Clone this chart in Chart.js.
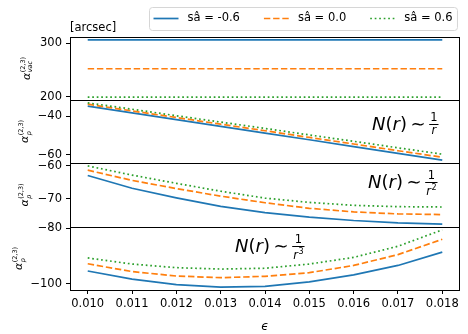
<!DOCTYPE html>
<html>
<head>
<meta charset="utf-8">
<script src="https://cdn.jsdelivr.net/npm/chart.js@4.4.1/dist/chart.umd.min.js"></script>
<style>
  html, body { margin: 0; padding: 0; background: #fff; }
  #wrap { position: relative; width: 468px; height: 334px; overflow: hidden; }
  #wrap canvas { position: absolute; left: 0; }
</style>
</head>
<body>
<div id="wrap">
  <canvas id="c1" width="468" height="112" style="top:0px"></canvas>
  <canvas id="c2" width="468" height="87" style="top:88px"></canvas>
  <canvas id="c3" width="468" height="88" style="top:151px"></canvas>
  <canvas id="c4" width="468" height="119" style="top:215px"></canvas>
</div>
<script>
// data
const eps = [0.010, 0.011, 0.012, 0.013, 0.014, 0.015, 0.016, 0.017, 0.018];
const seriesNames = ['sâ = -0.6', 'sâ = 0.0', 'sâ = 0.6'];

const vacNeg = [306, 306, 306, 306, 306, 306, 306, 306, 306];
const vacZero = [252, 252, 252, 252, 252, 252, 252, 252, 252];
const vacPos = [199, 199, 199, 199, 199, 199, 199, 199, 199];

const r1Neg = [-34.8, -38.3, -41.8, -45.3, -48.8, -52.3, -55.9, -59.4, -62.9];
const r1Zero = [-33.8, -37.3, -40.7, -44.2, -47.6, -51.1, -54.5, -58.0, -61.4];
const r1Pos = [-33.1, -36.4, -39.8, -43.1, -46.4, -49.8, -53.1, -56.5, -59.8];

const r2Neg = [-62.9, -66.8, -69.7, -72.3, -74.2, -75.6, -76.6, -77.3, -77.7];
const r2Zero = [-61.3, -64.4, -66.9, -69.2, -71.2, -72.9, -74.0, -74.6, -74.8];
const r2Pos = [-60.0, -62.8, -65.3, -67.7, -69.8, -71.1, -72.0, -72.4, -72.5];

const r3Neg = [-95.4, -98.3, -100.3, -101.2, -100.9, -99.3, -96.8, -93.4, -88.6];
const r3Zero = [-92.8, -95.6, -97.2, -97.8, -97.3, -96.0, -93.4, -89.5, -84.0];
const r3Pos = [-90.7, -92.9, -94.2, -94.7, -94.4, -92.9, -90.5, -86.5, -80.6];

const vacTicks = [200, 300];
const r1Ticks = [-60, -40];
const r2Ticks = [-70, -60];
const r3Ticks = [-100, -80];
const epsTicks = eps;

// look
const FONT = 'DejaVu Sans';
const colors = ['#1f77b4', '#ff7f0e', '#2ca02c'];
const dashes = [[], [6.4, 2.8], [1.7, 2.8]];

Chart.defaults.font.family = FONT;
Chart.defaults.font.size = 11.5;
Chart.defaults.color = '#000';

// matplotlib-like 5% margins
function range5(arrays) {
    const all = arrays.flat();
    const lo = Math.min(...all), hi = Math.max(...all);
    const m = (hi - lo) * 0.05;
    return [lo - m, hi + m];
}

const fmtY = v => (v < 0 ? '\u2212' + Math.abs(v) : String(v));

function drawAlpha(ctx, sub, bx, cy) {
    ctx.save();
    ctx.translate(bx, cy);
    ctx.rotate(-Math.PI / 2);
    ctx.fillStyle = '#000';
    ctx.textBaseline = 'alphabetic';
    ctx.textAlign = 'left';
    const big = 'italic 11px ' + FONT;
    const small = '6.5px ' + FONT;
    ctx.font = big;
    const wA = ctx.measureText('α').width;
    ctx.font = small;
    const wSup = ctx.measureText('(2,3)').width;
    ctx.font = 'italic ' + small;
    const wSub = ctx.measureText(sub).width;
    let x = -(wA + 0.5 + Math.max(wSup, wSub)) / 2;
    ctx.font = big;
    ctx.fillText('α', x, 0);
    x += wA + 0.5;
    ctx.font = small;
    ctx.fillText('(2,3)', x, -5);
    ctx.font = 'italic ' + small;
    ctx.fillText(sub, x, 2.5);
    ctx.restore();
}

function drawNote(ctx, n, oy) {
    const F = 18, f = 11.5, fs = 8;
    let x = n.x;
    const y = n.y - oy;
    ctx.save();
    ctx.fillStyle = '#000';
    ctx.textBaseline = 'alphabetic';
    ctx.textAlign = 'left';
    [['N', true], ['(', false], ['r', true], [')', false]].forEach(([t, it]) => {
        ctx.font = (it ? 'italic ' : '') + F + 'px ' + FONT;
        ctx.fillText(t, x, y);
        x += ctx.measureText(t).width;
    });
    x += 0.2 * F;
    ctx.font = F + 'px ' + FONT;
    ctx.fillText('∼', x, y);
    x += ctx.measureText('∼').width + 0.2 * F;

    ctx.font = 'italic ' + f + 'px ' + FONT;
    const wr = ctx.measureText('r').width;
    ctx.font = fs + 'px ' + FONT;
    const wp = n.pow ? ctx.measureText(n.pow).width + 0.5 : 0;
    ctx.font = f + 'px ' + FONT;
    const w1 = ctx.measureText('1').width;
    const wDen = wr + wp;
    const w = Math.max(w1, wDen) + 2;
    const bar = y - 5;
    ctx.fillRect(x, bar - 0.5, w, 1);
    ctx.fillText('1', x + (w - w1) / 2, bar - 3.5);
    const db = bar + (n.pow ? 12.5 : 9);
    const dx = x + (w - wDen) / 2;
    ctx.font = 'italic ' + f + 'px ' + FONT;
    ctx.fillText('r', dx, db);
    if (n.pow) {
        ctx.font = fs + 'px ' + FONT;
        ctx.fillText(n.pow, dx + wr + 0.5, db - 5);
    }
    ctx.restore();
}

function drawLegend(ctx) {
    const h0 = 153.5, yc = 18.5, hl = 25, pad = 9, gap = 24;
    ctx.save();
    ctx.font = '11.5px ' + FONT;
    let x = h0;
    const items = seriesNames.map((name, i) => {
        const it = { x, tx: x + hl + pad, name, i };
        x = it.tx + ctx.measureText(name).width + gap;
        return it;
    });
    const right = x - gap + 5;
    ctx.beginPath();
    ctx.roundRect(149.5, 7.5, right - 149.5, 23, 3);
    ctx.fillStyle = 'rgba(255,255,255,0.8)';
    ctx.fill();
    ctx.strokeStyle = '#d6d6d6';
    ctx.lineWidth = 1;
    ctx.stroke();
    items.forEach(it => {
        ctx.beginPath();
        ctx.setLineDash(dashes[it.i]);
        ctx.strokeStyle = colors[it.i];
        ctx.lineWidth = 1.7;
        ctx.moveTo(it.x, yc);
        ctx.lineTo(it.x + hl, yc);
        ctx.stroke();
        ctx.setLineDash([]);
        ctx.fillStyle = '#000';
        ctx.textBaseline = 'middle';
        ctx.fillText(it.name, it.tx, yc);
    });
    ctx.restore();
}

// frame, y label, annotation, legend
const panelText = {
    id: 'panelText',
    afterDatasetsDraw(chart, args, o) {
        const { ctx, chartArea: a } = chart;
        const oy = chart.canvas.offsetTop;
        ctx.save();
        ctx.strokeStyle = '#000';
        ctx.lineWidth = 1;
        ctx.strokeRect(Math.round(a.left) + 0.5, Math.round(a.top) + 0.5,
            Math.round(a.right - a.left) - 1, Math.round(a.bottom - a.top));
        ctx.restore();
        drawAlpha(ctx, o.sub, o.labelX, (a.top + a.bottom) / 2);
        if (o.note) drawNote(ctx, o.note, oy);
        if (o.legend) {
            drawLegend(ctx);
            ctx.save();
            ctx.font = '11.5px ' + FONT;
            ctx.fillStyle = '#000';
            ctx.textBaseline = 'alphabetic';
            ctx.fillText('[arcsec]', 70, 31);
            ctx.restore();
        }
    }
};

function panel(id, series, yTicks, extra) {
    const [ymin, ymax] = range5(series);
    const [xmin, xmax] = range5([eps]);
    const last = !!extra.xAxis;
    return new Chart(document.getElementById(id), {
        type: 'line',
        data: {
            datasets: series.map((vals, i) => ({
                label: seriesNames[i],
                data: eps.map((e, k) => ({ x: e, y: vals[k] })),
                borderColor: colors[i],
                borderWidth: 1.7,
                borderDash: dashes[i],
                borderCapStyle: 'butt',
                pointRadius: 0,
                tension: 0,
                fill: false,
                order: series.length - i
            }))
        },
        options: {
            responsive: false,
            animation: false,
            events: [],
            layout: { padding: { top: extra.padTop, bottom: last ? 0 : 12, left: 0, right: 8 } },
            plugins: {
                legend: { display: false },
                tooltip: { enabled: false },
                panelText: extra
            },
            scales: {
                x: {
                    type: 'linear',
                    display: last,
                    min: xmin,
                    max: xmax,
                    afterBuildTicks: s => { s.ticks = epsTicks.map(v => ({ value: v })); },
                    afterFit: s => { if (last) s.height = 44; },
                    grid: { drawOnChartArea: false, drawTicks: true, tickLength: 4, color: '#000' },
                    border: { display: false },
                    ticks: { padding: 3, maxRotation: 0, autoSkip: false, callback: v => v.toFixed(3) },
                    title: {
                        display: true,
                        text: 'ϵ',
                        font: { size: 12, style: 'italic' },
                        padding: { top: 9, bottom: 0 }
                    }
                },
                y: {
                    min: ymin,
                    max: ymax,
                    afterBuildTicks: s => { s.ticks = yTicks.map(v => ({ value: v })); },
                    afterFit: s => { s.width = 70; },
                    grid: { drawOnChartArea: false, drawTicks: true, tickLength: 4, color: '#000' },
                    border: { display: false },
                    ticks: { padding: 4, callback: fmtY }
                }
            }
        },
        plugins: [panelText]
    });
}

panel('c1', [vacNeg, vacZero, vacPos], vacTicks,
    { padTop: 37, sub: 'vac', labelX: 29.5, legend: true });
panel('c2', [r1Neg, r1Zero, r1Pos], r1Ticks,
    { padTop: 12, sub: 'p', labelX: 28, note: { x: 372, y: 129.5, pow: '' } });
panel('c3', [r2Neg, r2Zero, r2Pos], r2Ticks,
    { padTop: 12, sub: 'p', labelX: 28, note: { x: 368, y: 187.5, pow: '2' } });
panel('c4', [r3Neg, r3Zero, r3Pos], r3Ticks,
    { padTop: 12, sub: 'p', labelX: 22, note: { x: 235, y: 251.5, pow: '3' }, xAxis: true });
</script>
</body>
</html>
